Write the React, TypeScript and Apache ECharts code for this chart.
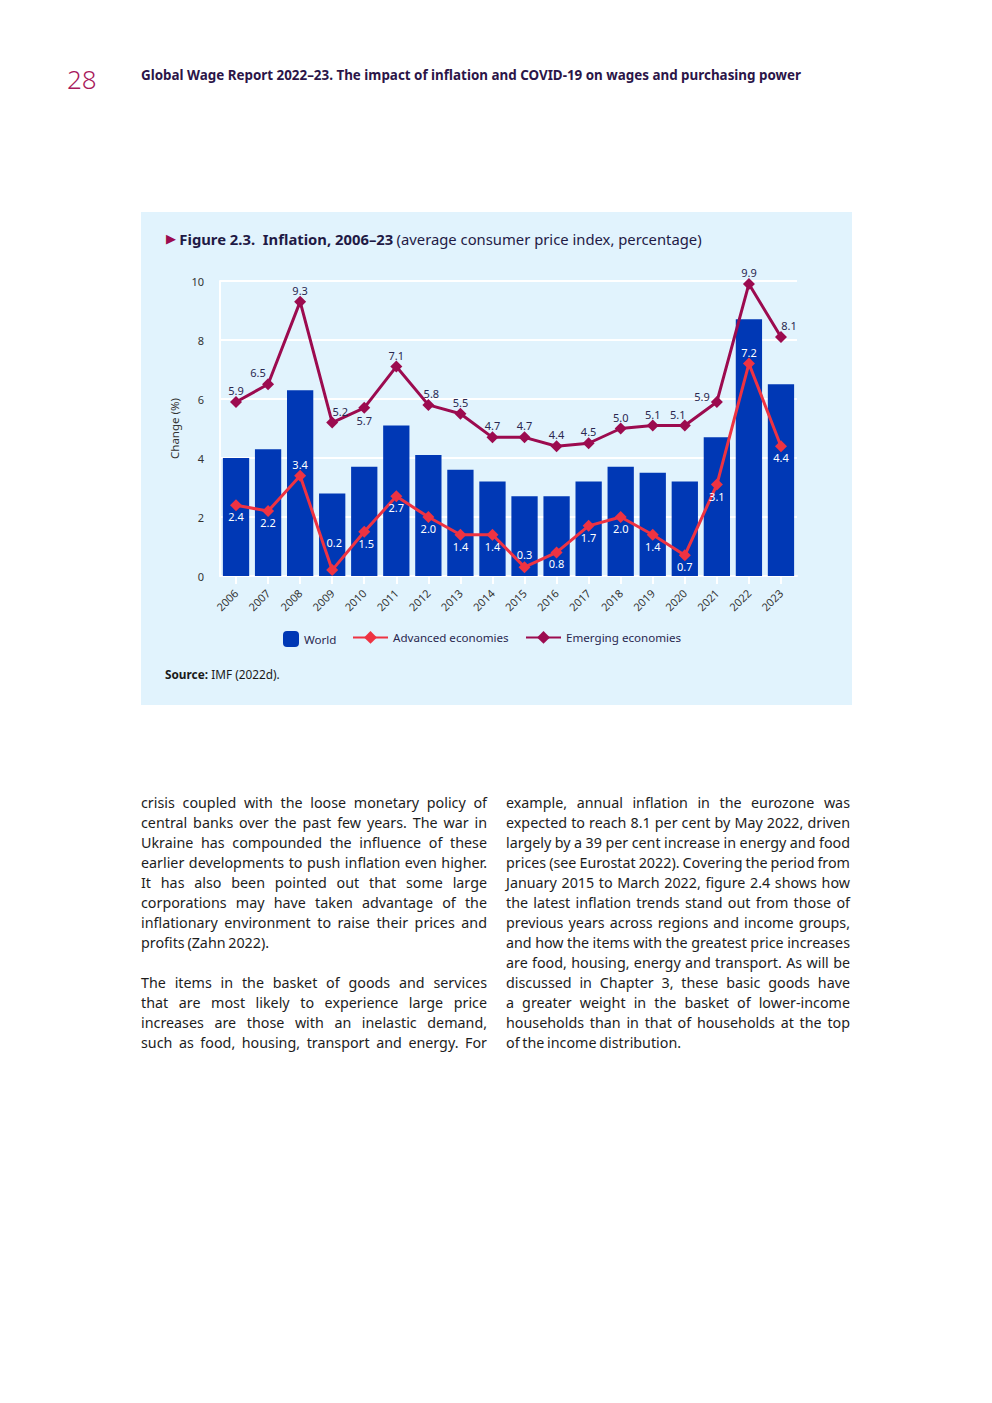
import React, { useEffect, useRef } from "react";
import * as echarts from "echarts";

const years = ["2006","2007","2008","2009","2010","2011","2012","2013","2014","2015","2016","2017","2018","2019","2020","2021","2022","2023"];
const world = [4.0, 4.3, 6.3, 2.8, 3.7, 5.1, 4.1, 3.6, 3.2, 2.7, 2.7, 3.2, 3.7, 3.5, 3.2, 4.7, 8.7, 6.5];
const advanced = [2.4, 2.2, 3.4, 0.2, 1.5, 2.7, 2.0, 1.4, 1.4, 0.3, 0.8, 1.7, 2.0, 1.4, 0.7, 3.1, 7.2, 4.4];
const emerging = [5.9, 6.5, 9.3, 5.2, 5.7, 7.1, 5.8, 5.5, 4.7, 4.7, 4.4, 4.5, 5.0, 5.1, 5.1, 5.9, 9.9, 8.1];
const yTicks = [0, 2, 4, 6, 8, 10];

const col1: string[][] = [
  [
    "crisis coupled with the loose monetary policy of",
    "central banks over the past few years. The war in",
    "Ukraine has compounded the influence of these",
    "earlier developments to push inflation even higher.",
    "It has also been pointed out that some large",
    "corporations may have taken advantage of the",
    "inflationary environment to raise their prices and",
    "profits (Zahn 2022).",
  ],
  [
    "The items in the basket of goods and services",
    "that are most likely to experience large price",
    "increases are those with an inelastic demand,",
    "such as food, housing, transport and energy. For",
  ],
];
const col2: string[][] = [
  [
    "example, annual inflation in the eurozone was",
    "expected to reach 8.1 per cent by May 2022, driven",
    "largely by a 39 per cent increase in energy and food",
    "prices (see Eurostat 2022). Covering the period from",
    "January 2015 to March 2022, figure 2.4 shows how",
    "the latest inflation trends stand out from those of",
    "previous years across regions and income groups,",
    "and how the items with the greatest price increases",
    "are food, housing, energy and transport. As will be",
    "discussed in Chapter 3, these basic goods have",
    "a greater weight in the basket of lower-income",
    "households than in that of households at the top",
    "of the income distribution.",
  ],
];

const FONT = "'Noto Sans', 'Open Sans', sans-serif";
const BAR = "#0038b5";
const ADV = "#ee3342";
const EMG = "#9c0b4f";
const NAVY = "#2a2850";

const emergingLabelStyle: Record<number, any> = {
  1: { offset: [-10, 0] },
  3: { offset: [8, 0] },
  4: { position: "bottom", distance: 1 },
  6: { offset: [3, 0] },
  14: { offset: [-7, 0] },
  15: { position: "left", offset: [0, -5], distance: 1 },
  17: { offset: [8, 0] },
};
const advancedLabelStyle: Record<number, any> = {
  2: { position: "top" },
  3: { position: "top", distance: 16, offset: [2, 0] },
  4: { offset: [2, 0] },
  9: { position: "top", distance: 1 },
  16: { position: "top" },
};

const fmt = (p: any) => Number(p.value).toFixed(1);

function Column({ paras, left, width, lastOpen }: { paras: string[][]; left: number; width: number; lastOpen: boolean }) {
  return (
    <div style={{ position: "absolute", left, top: 793, width, fontFamily: FONT, fontSize: 14.3, lineHeight: "20px", color: "#1d1d1d", wordSpacing: "-1px" }}>
      {paras.map((p, pi) => (
        <div key={pi} style={{ marginBottom: 20 }}>
          {p.map((line, li) => {
            const last = li === p.length - 1 && !(lastOpen && pi === paras.length - 1);
            return (
              <div
                key={li}
                style={{
                  whiteSpace: "nowrap",
                  textAlign: last ? "left" : "justify",
                  textAlignLast: last ? "left" : "justify",
                } as any}
              >
                {line}
              </div>
            );
          })}
        </div>
      ))}
    </div>
  );
}

export default function App() {
  const ref = useRef<HTMLDivElement>(null);
  useEffect(() => {
    if (!ref.current) return;
    const chart = echarts.init(ref.current, null, { renderer: "svg" });
    const emgData = emerging.map((v, i) => ({
      value: v,
      label: { show: true, position: "top", distance: 0, ...(emergingLabelStyle[i] || {}) },
    }));
    const advData = advanced.map((v, i) => ({
      value: v,
      label: { show: true, position: "bottom", distance: 0, ...(advancedLabelStyle[i] || {}) },
    }));
    chart.setOption({
      animation: false,
      backgroundColor: "#e1f3fd",
      textStyle: { fontFamily: FONT },
      graphic: [
        {
          type: "text",
          left: 25,
          top: 19,
          style: {
            text: "{tri|▶} {b|Figure 2.3.  Inflation, 2006–23} {n|(average consumer price index, percentage)}",
            rich: {
              tri: { fill: EMG, fontSize: 13, fontFamily: "'DejaVu Sans', sans-serif" },
              b: { fill: "#1f1a45", fontSize: 14.8, fontWeight: "bold", fontFamily: FONT },
              n: { fill: "#1f1a45", fontSize: 14.8, fontFamily: FONT },
            },
          },
        },
        {
          type: "text",
          left: 24,
          top: 456,
          style: {
            text: "{b|Source:} {n|IMF (2022d).}",
            rich: {
              b: { fill: "#1a1a1a", fontSize: 11.8, fontWeight: "bold", fontFamily: FONT },
              n: { fill: "#1a1a1a", fontSize: 11.8, fontFamily: FONT },
            },
          },
        },
      ],
      grid: { left: 79, right: 55, top: 69, bottom: 129, containLabel: false },
      legend: [
        {
          data: ["World"],
          left: 137,
          top: 414,
          itemWidth: 16,
          itemHeight: 16,
          textStyle: { color: NAVY, fontSize: 11.6, fontFamily: FONT },
        },
        {
          data: ["Advanced economies"],
          left: 206,
          top: 414,
          itemWidth: 35,
          itemHeight: 16,
          textStyle: { color: NAVY, fontSize: 11.6, fontFamily: FONT },
        },
        {
          data: ["Emerging economies"],
          left: 379,
          top: 414,
          itemWidth: 35,
          itemHeight: 16,
          textStyle: { color: NAVY, fontSize: 11.6, fontFamily: FONT },
        },
      ],
      xAxis: {
        type: "category",
        data: years,
        axisLine: { show: true, lineStyle: { color: "#ffffff", width: 2 } },
        axisTick: { show: true, alignWithLabel: true, length: 8, lineStyle: { color: "#ffffff", width: 2 } },
        axisLabel: { rotate: 45, color: "#333333", fontSize: 11, margin: 15, fontFamily: FONT },
      },
      yAxis: {
        type: "value",
        min: yTicks[0],
        max: yTicks[yTicks.length - 1],
        interval: 2,
        name: "Change (%)",
        nameLocation: "middle",
        nameGap: 33,
        nameTextStyle: { color: "#333333", fontSize: 11.5, fontFamily: FONT },
        axisLine: { show: true, lineStyle: { color: "#ffffff", width: 2 } },
        axisTick: { show: false },
        axisLabel: { color: "#333333", fontSize: 11, margin: 16, fontFamily: FONT },
        splitLine: { show: true, lineStyle: { color: "#ffffff", width: 2 } },
      },
      series: [
        {
          name: "World",
          type: "bar",
          data: world,
          barCategoryGap: "18%",
          itemStyle: { color: BAR },
          z: 1,
        },
        {
          name: "Advanced economies",
          type: "line",
          data: advData,
          symbol: "diamond",
          symbolSize: 12,
          lineStyle: { color: ADV, width: 3 },
          itemStyle: { color: ADV },
          label: { color: "#ffffff", fontSize: 11, fontFamily: FONT, formatter: fmt },
          z: 3,
        },
        {
          name: "Emerging economies",
          type: "line",
          data: emgData,
          symbol: "diamond",
          symbolSize: 12,
          lineStyle: { color: EMG, width: 3 },
          itemStyle: { color: EMG },
          label: { color: NAVY, fontSize: 11, fontFamily: FONT, formatter: fmt },
          z: 4,
        },
      ],
    });
    return () => chart.dispose();
  }, []);

  return (
    <div style={{ position: "absolute", left: 0, top: 0, width: 992, height: 1403, background: "#ffffff", overflow: "hidden" }}>
      <div style={{ position: "absolute", left: 67, top: 62, fontFamily: FONT, fontSize: 26, fontWeight: 300, color: "#a8195b", lineHeight: "34px" }}>28</div>
      <div style={{ position: "absolute", left: 141, top: 66, fontFamily: FONT, fontSize: 13.4, fontWeight: 700, color: "#2b1548", lineHeight: "18px", whiteSpace: "nowrap" }}>
        Global Wage Report 2022–23. The impact of inflation and COVID-19 on wages and purchasing power
      </div>
      <div ref={ref} style={{ position: "absolute", left: 141, top: 212, width: 711, height: 493 }} />
      <Column paras={col1} left={141} width={346} lastOpen={true} />
      <Column paras={col2} left={506} width={344} lastOpen={false} />
    </div>
  );
}
